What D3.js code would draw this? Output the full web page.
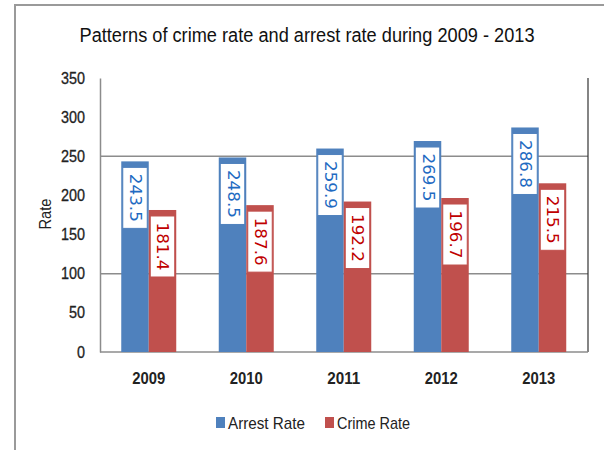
<!DOCTYPE html>
<html><head><meta charset="utf-8">
<script src="https://cdn.jsdelivr.net/npm/d3@7"></script>
<style>body{margin:0;background:#fff;} svg{display:block;}</style>
</head><body>
<svg id="c" width="604" height="450"></svg>
<script>
const years = ["2009","2010","2011","2012","2013"];
const seriesNames = ["Arrest Rate","Crime Rate"];
const arrestRate = [243.5, 248.5, 259.9, 269.5, 286.8];
const crimeRate = [181.4, 187.6, 192.2, 196.7, 215.5];
const yTicks = [0,50,100,150,200,250,300,350];
const gridValues = [100,250];

const fillColors = ["#4F81BD","#C0504D"];
const textColors = ["#1F6BC2","#C00000"];
const seriesData = [arrestRate, crimeRate];

const svg = d3.select("#c");
const font = "'Liberation Sans', Arial, sans-serif";

// outer frame
svg.append("rect").attr("x",15).attr("y",5).attr("width",620).attr("height",480)
  .attr("fill","none").attr("stroke","#9a9a9a").attr("stroke-width",2);

// title
svg.append("text").attr("x",307).attr("y",42).attr("text-anchor","middle")
  .attr("font-family",font).attr("font-size",20).attr("fill","#111")
  .attr("textLength",455).attr("lengthAdjust","spacingAndGlyphs")
  .text("Patterns of crime rate and arrest rate during 2009 - 2013");

const y = d3.scaleLinear().domain([0,350]).range([352,78]);
const x = d3.scaleBand().domain(years).range([100,587.5]).paddingInner(0.436).paddingOuter(0.218);
const xs = d3.scaleBand().domain(seriesNames).range([0,x.bandwidth()]);

// gridlines
svg.append("g").selectAll("line").data(gridValues).join("line")
  .attr("x1",100).attr("x2",588).attr("y1",d=>y(d)).attr("y2",d=>y(d))
  .attr("stroke","#8c8c8c").attr("stroke-width",1.5);

// right border of plot area
svg.append("line").attr("x1",588).attr("x2",588).attr("y1",y(350)).attr("y2",y(0))
  .attr("stroke","#333").attr("stroke-width",1.2);

// y axis
const yAxis = svg.append("g").attr("transform","translate(100,0)")
  .call(d3.axisLeft(y).tickValues(yTicks).tickSize(0).tickPadding(15));
yAxis.select(".domain").attr("stroke","#8c8c8c").attr("stroke-width",1.5);
yAxis.selectAll("text").attr("font-family",font).attr("font-size",16).attr("fill","#222")
  .attr("stroke","#222").attr("stroke-width",0.3)
  .attr("textLength", d => String(d).length*8).attr("lengthAdjust","spacingAndGlyphs");

// x axis
const xAxis = svg.append("g").attr("transform","translate(0,352)")
  .call(d3.axisBottom(x).tickSize(0).tickPadding(21));
xAxis.select(".domain").attr("stroke","#8c8c8c").attr("stroke-width",1.5).attr("d","M100,0H588");
xAxis.selectAll("text").attr("font-family",font).attr("font-size",16).attr("font-weight","bold").attr("fill","#222")
  .attr("textLength",33).attr("lengthAdjust","spacingAndGlyphs");

// y title
svg.append("text").attr("transform","translate(51,214) rotate(-90)").attr("text-anchor","middle")
  .attr("font-family",font).attr("font-size",16).attr("fill","#222")
  .attr("textLength",31).attr("lengthAdjust","spacingAndGlyphs").text("Rate");

// bars
seriesNames.forEach((name, si) => {
  const g = svg.append("g");
  const vals = seriesData[si];
  g.selectAll("rect.bar").data(years).join("rect").attr("class","bar")
    .attr("x", d => x(d) + xs(name))
    .attr("width", xs.bandwidth())
    .attr("y", (d,i) => y(vals[i]))
    .attr("height", (d,i) => y(0) - y(vals[i]))
    .attr("fill", fillColors[si]);
  // label boxes
  g.selectAll("rect.lab").data(years).join("rect").attr("class","lab")
    .attr("x", d => x(d) + xs(name) + 1.5)
    .attr("width", xs.bandwidth() - 3)
    .attr("y", (d,i) => y(vals[i]) + 6)
    .attr("height", 61)
    .attr("fill","#fff").attr("stroke", fillColors[si]).attr("stroke-width",1);
  g.selectAll("text").data(years).join("text")
    .attr("transform", (d,i) => `translate(${x(d)+xs(name)+xs.bandwidth()/2},${y(vals[i])+6+30.5}) rotate(90)`)
    .attr("text-anchor","middle").attr("dominant-baseline","central")
    .attr("font-family","'DejaVu Sans', Verdana, sans-serif").attr("font-size",15)
    .attr("fill", textColors[si])
    .attr("textLength",48).attr("lengthAdjust","spacingAndGlyphs")
    .text((d,i) => vals[i].toFixed(1));
});

// legend
const legendX = [216, 325];
const leg = svg.append("g");
seriesNames.forEach((name, si) => {
  leg.append("rect").attr("x",legendX[si]).attr("y",417).attr("width",9).attr("height",11).attr("fill",fillColors[si]);
  leg.append("text").attr("x",legendX[si]+12).attr("y",423).attr("dominant-baseline","central")
    .attr("font-family",font).attr("font-size",17).attr("fill","#222")
    .attr("textLength", si===0?77:73).attr("lengthAdjust","spacingAndGlyphs")
    .text(name);
});
</script>
</body></html>
